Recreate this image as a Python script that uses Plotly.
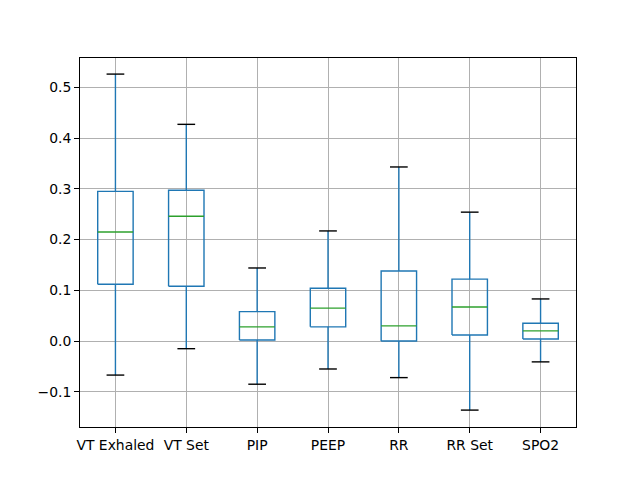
import plotly.graph_objects as go

categories = ["VT Exhaled", "VT Set", "PIP", "PEEP", "RR", "RR Set", "SPO2"]
upper_whisker = [0.526, 0.427, 0.144, 0.217, 0.343, 0.254, 0.083]
q3 = [0.295, 0.297, 0.058, 0.104, 0.138, 0.122, 0.035]
median = [0.215, 0.246, 0.028, 0.065, 0.030, 0.067, 0.020]
q1 = [0.112, 0.108, 0.002, 0.028, 0.000, 0.012, 0.004]
lower_whisker = [-0.067, -0.015, -0.085, -0.055, -0.072, -0.136, -0.041]
y_ticks = [-0.1, 0.0, 0.1, 0.2, 0.3, 0.4, 0.5]
y_tick_labels = ["\u22120.1", "0.0", "0.1", "0.2", "0.3", "0.4", "0.5"]

positions = list(range(1, len(categories) + 1))
bw = 0.25  # half box width
cw = 0.125  # half cap width

wx, wy, cx, cy, bx, by, mx, my = [], [], [], [], [], [], [], []
for p, lo, a, m, b, hi in zip(positions, lower_whisker, q1, median, q3, upper_whisker):
    wx += [p, p, None, p, p, None]
    wy += [lo, a, None, b, hi, None]
    cx += [p - cw, p + cw, None, p - cw, p + cw, None]
    cy += [lo, lo, None, hi, hi, None]
    bx += [p - bw, p + bw, p + bw, p - bw, p - bw, None]
    by += [a, a, b, b, a, None]
    mx += [p - bw, p + bw, None]
    my += [m, m, None]

lw = 1.4
fig = go.Figure()
fig.add_trace(go.Scatter(x=wx, y=wy, mode="lines", line=dict(color="#1f77b4", width=lw), hoverinfo="skip"))
fig.add_trace(go.Scatter(x=cx, y=cy, mode="lines", line=dict(color="black", width=lw), hoverinfo="skip"))
fig.add_trace(go.Scatter(x=bx, y=by, mode="lines", line=dict(color="#1f77b4", width=lw), hoverinfo="skip"))
fig.add_trace(go.Scatter(x=mx, y=my, mode="lines", line=dict(color="#2ca02c", width=lw), hoverinfo="skip"))

axis_common = dict(
    showline=True, linecolor="black", linewidth=1.1, mirror=True,
    showgrid=True, gridcolor="#b0b0b0", gridwidth=1.1,
    ticks="outside", ticklen=4.9, tickwidth=1.1, tickcolor="black",
    tickfont=dict(family="DejaVu Sans", size=13.9, color="black"),
    zeroline=False,
)
fig.update_xaxes(range=[0.5, 7.5], tickmode="array", tickvals=positions, ticktext=categories, **axis_common)
fig.update_yaxes(range=[-0.1693, 0.5577], tickmode="array", tickvals=y_ticks, ticktext=y_tick_labels, **axis_common)
fig.update_layout(
    width=640, height=480,
    margin=dict(l=80, r=64, t=58, b=53),
    paper_bgcolor="white", plot_bgcolor="white",
    showlegend=False,
    font=dict(family="DejaVu Sans", size=13.9, color="black"),
)
fig.write_html("out.html")
